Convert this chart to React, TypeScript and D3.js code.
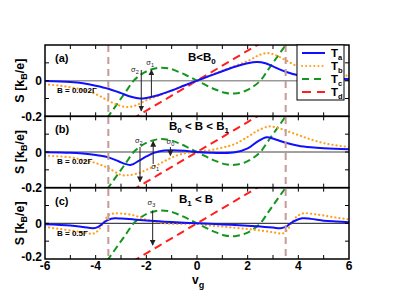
import React from "react";
import * as d3 from "d3";

// gate voltage ticks and panel annotations
const xTickLabels = [-6, -4, -2, 0, 2, 4, 6];
const xMinorTicks = [-5, -4, -3, -2, -1, 0, 1, 2, 3, 4, 5];
const yTickLabels = [0, -0.2];
const yMinorTicks = [-0.1, 0, 0.1];
const panelLabels = ["(a)", "(b)", "(c)"];
const fieldLabels = ["B = 0.002Γ", "B = 0.02Γ", "B = 0.5Γ"];
const legendNames = ["a", "b", "c", "d"];
const resonanceLines = [-3.5, 3.5];

// T_c and T_d are the same in every panel
const tcPts: [number, number][] = [
  [-3.8, -0.26], [-3.5, -0.2], [-3.1, -0.12], [-2.8, -0.06], [-2.5, 0], [-2.2, 0.035],
  [-1.9, 0.058], [-1.5, 0.072], [-1.1, 0.068], [-0.7, 0.048], [-0.35, 0.025], [0, 0],
  [0.35, -0.025], [0.7, -0.048], [1.1, -0.068], [1.5, -0.072], [1.9, -0.058], [2.2, -0.035],
  [2.5, 0], [2.8, 0.06], [3.1, 0.12], [3.5, 0.2], [3.8, 0.26],
];
const tdPts: [number, number][] = [
  [-3, -0.25], [-2.5, -0.21], [-2, -0.168], [-1.5, -0.126], [-1, -0.084], [-0.5, -0.042], [0, 0],
  [0.5, 0.042], [1, 0.084], [1.5, 0.126], [2, 0.168], [2.5, 0.21], [3, 0.25],
];

// panel (a) B = 0.002 Gamma
const taA: [number, number][] = [
  [-6, -0.002], [-5, -0.008], [-4.5, -0.015], [-4, -0.028], [-3.5, -0.045], [-3, -0.07],
  [-2.6, -0.09], [-2.25, -0.1], [-2, -0.097], [-1.5, -0.08], [-1, -0.055], [-0.5, -0.027], [0, 0],
  [0.5, 0.027], [1, 0.053], [1.5, 0.078], [2, 0.098], [2.37, 0.105], [2.7, 0.098], [3, 0.08],
  [3.5, 0.05], [4, 0.03], [4.5, 0.02], [5, 0.014], [6, 0.01],
];
const tbA: [number, number][] = [
  [-6, -0.02], [-5.5, -0.027], [-5, -0.037], [-4.5, -0.052], [-4, -0.075], [-3.5, -0.112],
  [-3.1, -0.138], [-2.75, -0.148], [-2.4, -0.138], [-2, -0.11], [-1.5, -0.083], [-1, -0.056],
  [-0.5, -0.028], [0, 0], [0.5, 0.028], [1, 0.056], [1.5, 0.083], [2, 0.11], [2.4, 0.14],
  [2.75, 0.155], [3.1, 0.143], [3.5, 0.115], [4, 0.078], [4.5, 0.055], [5, 0.04], [5.5, 0.032],
  [6, 0.027],
];

// panel (b) B = 0.02 Gamma
const taB: [number, number][] = [
  [-6, -0.001], [-5, -0.004], [-4.5, -0.009], [-4, -0.017], [-3.5, -0.03], [-3.1, -0.052],
  [-2.8, -0.068], [-2.6, -0.072], [-2.3, -0.05], [-2, -0.025], [-1.7, -0.005], [-1.3, 0.008],
  [-1, 0.01], [-0.5, 0.007], [0, 0], [0.5, -0.004], [1, -0.006], [1.5, -0.002], [2, 0.02],
  [2.4, 0.06], [2.75, 0.083], [3.1, 0.07], [3.5, 0.052], [4, 0.035], [4.5, 0.026], [5, 0.021],
  [6, 0.016],
];
const tbB: [number, number][] = [
  [-6, -0.02], [-5, -0.03], [-4.5, -0.045], [-4, -0.062], [-3.5, -0.09], [-3, -0.128],
  [-2.7, -0.13], [-2.3, -0.118], [-2, -0.1], [-1.6, -0.075], [-1.2, -0.045], [-0.8, -0.02],
  [-0.4, -0.005], [0, 0], [0.5, 0.01], [1, 0.025], [1.5, 0.045], [2, 0.085], [2.4, 0.12],
  [2.85, 0.143], [3.2, 0.135], [3.5, 0.12], [4, 0.095], [4.5, 0.07], [5, 0.05], [5.5, 0.037],
  [6, 0.028],
];

// panel (c) B = 0.5 Gamma
const taC: [number, number][] = [
  [-6, -0.005], [-5, -0.012], [-4.5, -0.02], [-4.1, -0.028], [-3.9, -0.02], [-3.7, 0.002],
  [-3.5, 0.02], [-3.25, 0.028], [-3, 0.027], [-2.5, 0.022], [-2, 0.016], [-1.5, 0.011],
  [-1, 0.007], [-0.5, 0.003], [0, 0], [0.5, -0.003], [1, -0.006], [1.5, -0.009], [2, -0.013],
  [2.5, -0.018], [3, -0.024], [3.3, -0.027], [3.5, -0.02], [3.75, 0.005], [4.15, 0.028],
  [4.5, 0.025], [5, 0.015], [5.5, 0.01], [6, 0.006],
];
const tbC: [number, number][] = [
  [-6, -0.02], [-5.5, -0.03], [-5, -0.04], [-4.5, -0.05], [-4.1, -0.058], [-3.9, -0.04],
  [-3.7, 0], [-3.5, 0.045], [-3.3, 0.055], [-3, 0.055], [-2.5, 0.045], [-2, 0.02], [-1.5, 0.005],
  [-1, -0.003], [-0.5, -0.003], [0, 0], [0.5, -0.012], [1, -0.018], [1.5, -0.025], [2, -0.032],
  [2.5, -0.04], [3, -0.05], [3.4, -0.056], [3.6, -0.03], [3.75, 0.005], [3.95, 0.04],
  [4.2, 0.056], [4.6, 0.052], [5, 0.044], [5.5, 0.032], [6, 0.022],
];

const taSeries = [taA, taB, taC];
const tbSeries = [tbA, tbB, tbC];

// sigma arrows: panel, gate voltage, from S, to S, label, label vg, label S
const arrows = [
  { p: 0, vg: -2.2, from: 0.06, to: -0.17, name: "2", lx: -2.45, ly: 0.05 },
  { p: 0, vg: -1.8, from: -0.095, to: 0.06, name: "1", lx: -1.85, ly: 0.09 },
  { p: 1, vg: -2.25, from: 0.028, to: -0.167, name: "2", lx: -2.3, ly: 0.05 },
  { p: 1, vg: -1.73, from: -0.067, to: 0.06, name: "1", lx: -1.65, ly: -0.095 },
  { p: 1, vg: -1.05, from: 0.028, to: -0.02, name: "0", lx: -1.05, ly: 0.045 },
  { p: 2, vg: -1.75, from: 0.072, to: -0.122, name: "3", lx: -1.8, ly: 0.105 },
];

const W = 395;
const H = 305;
const left = 45;
const right = 349;
const top = 45;
const bottom = 259;
const ph = (bottom - top) / 3;
const font = "'Liberation Sans', Arial, sans-serif";

const colors = { a: "#1010ff", b: "#ffa020", c: "#14961e", d: "#ff1f1f" };

const App = () => {
  const x = d3.scaleLinear().domain([-6, 6]).range([left, right]);
  const yFor = (i: number) =>
    d3.scaleLinear().domain([-0.2, 0.2]).range([top + ph * (i + 1), top + ph * i]);

  const titles = [
    { x: 188, y: 61, parts: [["B<B", ""], ["0", "sub"]] },
    { x: 169, y: 130, parts: [["B", ""], ["0", "sub"], [" < B < B", ""], ["1", "sub"]] },
    { x: 179, y: 203, parts: [["B", ""], ["1", "sub"], [" < B", ""]] },
  ];

  return (
    <svg width={W} height={H} style={{ position: "absolute", left: 0, top: 0, background: "#fff" }} fontFamily={font}>
      <defs>
        {[0, 1, 2].map((i) => (
          <clipPath id={`clip${i}`} key={i}>
            <rect x={left} y={top + ph * i} width={right - left} height={ph} />
          </clipPath>
        ))}
        <marker id="head" viewBox="0 0 10 10" refX="9" refY="5" markerUnits="userSpaceOnUse" markerWidth="6" markerHeight="6" orient="auto">
          <path d="M0,0 L10,5 L0,10 z" fill="#222" />
        </marker>
      </defs>

      {[0, 1, 2].map((i) => {
        const y = yFor(i);
        const line = d3
          .line<[number, number]>()
          .x((d) => x(d[0]))
          .y((d) => y(d[1]))
          .curve(d3.curveCatmullRom.alpha(0.5));
        const midY = y(0);
        return (
          <g key={i}>
            <line x1={left} x2={right} y1={y(0)} y2={y(0)} stroke={i === 0 ? "#999" : "#444"} strokeWidth={i === 0 ? 1.5 : 1.2} />
            <g clipPath={`url(#clip${i})`}>
              <path d={line(tcPts) || ""} fill="none" stroke={colors.c} strokeWidth={2} strokeDasharray="7,4" />
              <path d={line(tdPts) || ""} fill="none" stroke={colors.d} strokeWidth={2} strokeDasharray="8,5" />
              <path d={line(tbSeries[i]) || ""} fill="none" stroke={colors.b} strokeWidth={2.2} strokeDasharray="0.1,4" strokeLinecap="round" />
              <path d={line(taSeries[i]) || ""} fill="none" stroke={colors.a} strokeWidth={2} />
            </g>
            {/* ticks */}
            {xMinorTicks.map((t) => (
              <g key={t}>
                <line x1={x(t)} x2={x(t)} y1={top + ph * i} y2={top + ph * i + 4} stroke="#000" />
                <line x1={x(t)} x2={x(t)} y1={top + ph * (i + 1)} y2={top + ph * (i + 1) - 4} stroke="#000" />
              </g>
            ))}
            {yMinorTicks.map((t) => (
              <g key={t}>
                <line x1={left} x2={left + 4} y1={y(t)} y2={y(t)} stroke="#000" />
                <line x1={right} x2={right - 4} y1={y(t)} y2={y(t)} stroke="#000" />
              </g>
            ))}
            {yTickLabels.map((t) => (
              <text key={t} x={left - 3} y={y(t) + (i === 2 && t < 0 ? 2 : 4.5)} textAnchor="end" fontSize={12} fontWeight="bold">
                {t === 0 ? "0" : t.toFixed(1)}
              </text>
            ))}
            <text transform={`translate(24,${midY}) rotate(-90)`} textAnchor="middle" fontSize={12.5} fontWeight="bold">
              S [k<tspan fontSize={9} dy={3}>B</tspan>
              <tspan dy={-3}>/e]</tspan>
            </text>
            <text x={55} y={top + ph * i + 17} fontSize={11} fontWeight="bold">
              {panelLabels[i]}
            </text>
            <text x={57} y={y(-0.07)} fontSize={8} fontWeight="bold">
              {fieldLabels[i]}
            </text>
            <text x={titles[i].x} y={titles[i].y} fontSize={11.5} fontWeight="bold">
              {titles[i].parts.map((p, k) => (
                <tspan key={k} fontSize={p[1] === "sub" ? 8 : 11.5} dy={p[1] === "sub" ? 3 : k > 0 ? -3 : 0}>
                  {p[0]}
                </tspan>
              ))}
            </text>
          </g>
        );
      })}

      {/* resonance markers */}
      {resonanceLines.map((v) => (
        <line key={v} x1={x(v)} x2={x(v)} y1={top} y2={bottom} stroke="#c49a9a" strokeWidth={2} strokeDasharray="7,5" />
      ))}

      {/* sigma arrows */}
      {arrows.map((a, k) => {
        const y = yFor(a.p);
        return (
          <g key={k}>
            <line x1={x(a.vg)} x2={x(a.vg)} y1={y(a.from)} y2={y(a.to)} stroke="#222" strokeWidth={1} markerEnd="url(#head)" />
            <text x={x(a.lx)} y={y(a.ly)} textAnchor="middle" fontSize={7.5} fill="#222">
              σ<tspan fontSize={5.5} dy={2}>{a.name}</tspan>
            </text>
          </g>
        );
      })}

      {/* frames */}
      {[0, 1, 2].map((i) => (
        <rect key={i} x={left} y={top + ph * i} width={right - left} height={ph} fill="none" stroke="#000" strokeWidth={1.5} />
      ))}

      {/* x axis labels */}
      {xTickLabels.map((t) => (
        <text key={t} x={x(t)} y={270} textAnchor="middle" fontSize={12} fontWeight="bold">
          {t}
        </text>
      ))}
      <text x={192} y={284} fontSize={12} fontWeight="bold">
        v<tspan fontSize={9} dy={4}>g</tspan>
      </text>

      {/* legend */}
      <g>
        <rect x={297} y={top} width={47} height={55} fill="#fff" stroke="#000" strokeWidth={1} />
        {legendNames.map((n, k) => {
          const ly = 53 + k * 13;
          const c = (colors as any)[n];
          const dash = n === "a" ? undefined : n === "b" ? "0.1,4" : n === "c" ? "7,5" : "9,6";
          return (
            <g key={n}>
              <line x1={302} x2={325} y1={ly} y2={ly} stroke={c} strokeWidth={2} strokeDasharray={dash} strokeLinecap={n === "b" ? "round" : "butt"} />
              <text x={331} y={ly + 4} fontSize={11.5} fontWeight="bold">
                T<tspan fontSize={7.5} dy={3}>{n}</tspan>
              </text>
            </g>
          );
        })}
      </g>
    </svg>
  );
};

export default App;
